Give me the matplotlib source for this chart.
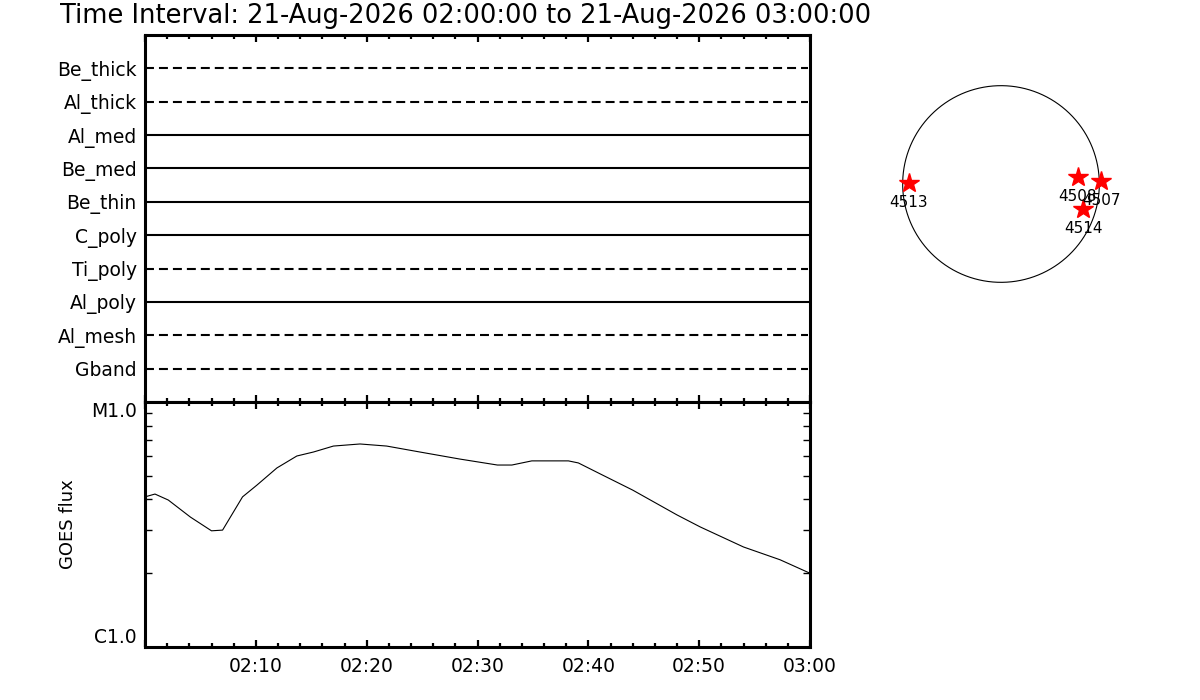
import matplotlib
matplotlib.use("Agg")
import matplotlib.pyplot as plt
from matplotlib.ticker import MultipleLocator, FuncFormatter, LogLocator, NullFormatter, FixedLocator
import numpy as np

TITLE = "Time Interval: 21-Aug-2026 02:00:00 to 21-Aug-2026 03:00:00"

# attenuator / filter rows, top to bottom
filters = ["Be_thick", "Al_thick", "Al_med", "Be_med", "Be_thin",
           "C_poly", "Ti_poly", "Al_poly", "Al_mesh", "Gband"]
filter_dashed = [True, True, False, False, False, False, True, False, True, True]

# GOES flux (W/m^2), minutes after 02:00
goes_min = [0, 0.9, 2.1, 4.1, 6.0, 7.0, 8.8, 10.1, 11.9, 13.7, 15.2, 17.0, 19.4,
            21.8, 24.8, 28.4, 31.8, 33.1, 34.9, 38.2, 39.1, 41.1, 44.0, 48.0,
            50.1, 54.0, 57.3, 60.0]
goes_flux = [4.10e-6, 4.21e-6, 3.98e-6, 3.39e-6, 2.98e-6, 3.00e-6, 4.10e-6,
             4.58e-6, 5.38e-6, 6.02e-6, 6.25e-6, 6.61e-6, 6.74e-6, 6.61e-6,
             6.25e-6, 5.85e-6, 5.53e-6, 5.53e-6, 5.75e-6, 5.75e-6, 5.64e-6,
             5.08e-6, 4.37e-6, 3.46e-6, 3.09e-6, 2.56e-6, 2.27e-6, 2.00e-6]

# active regions on the disk (solar radii)
ar_names = ["4513", "4508", "4507", "4514"]
ar_x = [-0.936, 0.783, 1.017, 0.834]
ar_y = [0.010, 0.071, 0.031, -0.254]

W, H = 1200, 700
fig = plt.figure(figsize=(12, 7), dpi=100)


def px(l, t, r, b):
    return [l / W, 1 - b / H, (r - l) / W, (b - t) / H]


def style_time_axis(ax):
    ax.set_xlim(0, 60)
    ax.xaxis.set_major_locator(MultipleLocator(10))
    ax.xaxis.set_minor_locator(MultipleLocator(2))
    ax.tick_params(axis="x", which="both", direction="in", top=True, bottom=True,
                   width=1.6, color="black")
    ax.tick_params(axis="x", which="major", length=5)
    ax.tick_params(axis="x", which="minor", length=3)
    for s in ax.spines.values():
        s.set_linewidth(2.2)


# upper panel: filter states
ax1 = fig.add_axes(px(145, 35, 810, 402))
style_time_axis(ax1)
ax1.tick_params(axis="x", labelbottom=False)
n = len(filters)
ax1.set_ylim(0, n + 1)
for i, (name, dashed) in enumerate(zip(filters, filter_dashed)):
    yv = n - i
    ls = (0, (4.3, 2.4)) if dashed else "-"
    ax1.plot([0, 59.8], [yv, yv], color="black", lw=1.5, ls=ls)
ax1.set_yticks([n - i for i in range(n)])
ax1.set_yticklabels(filters, fontsize=13.5)
ax1.tick_params(axis="y", length=0, pad=6)

# lower panel: GOES flux
ax2 = fig.add_axes(px(145, 402, 810, 647))
style_time_axis(ax2)
ax2.plot(goes_min, goes_flux, color="black", lw=0.8)
ax2.set_yscale("log")
ax2.set_ylim(1e-6, 1e-5)
ax2.yaxis.set_major_locator(FixedLocator([1e-6, 1e-5]))
ax2.yaxis.set_minor_locator(LogLocator(base=10, subs=np.arange(2, 10)))
ax2.yaxis.set_minor_formatter(NullFormatter())
ax2.set_yticklabels(["C1.0", "M1.0"], fontsize=13.5)
ax2.get_yticklabels()[0].set_va("bottom")
ax2.get_yticklabels()[1].set_va("top")
ax2.tick_params(axis="y", which="both", direction="in", left=True, right=True)
ax2.tick_params(axis="y", which="major", length=0, pad=6)
ax2.tick_params(axis="y", which="minor", length=5, width=1)
ax2.xaxis.set_major_formatter(FuncFormatter(
    lambda v, p: "" if v < 1 else "%02d:%02d" % (2 + int(v) // 60, int(v) % 60)))
ax2.tick_params(axis="x", labelsize=13.5, pad=7)
ax2.set_ylabel("GOES flux", fontsize=13, labelpad=10)

# solar disk with active regions
ax3 = fig.add_axes(px(883, 66, 1119, 302))
ax3.set_xlim(-1.2, 1.2)
ax3.set_ylim(-1.2, 1.2)
ax3.set_axis_off()
th = np.linspace(0, 2 * np.pi, 400)
ax3.plot(np.cos(th), np.sin(th), color="black", lw=0.8)
ax3.plot(ar_x, ar_y, ls="none", marker="*", ms=15, color="red", mec="red")
for name, xv, yv in zip(ar_names, ar_x, ar_y):
    ax3.text(xv, yv - 0.2, name, ha="center", va="center", fontsize=11)

fig.text(60 / W, 1 - 16 / H, TITLE, fontsize=18.5, va="center", ha="left")

fig.savefig("out.png", dpi=100)
